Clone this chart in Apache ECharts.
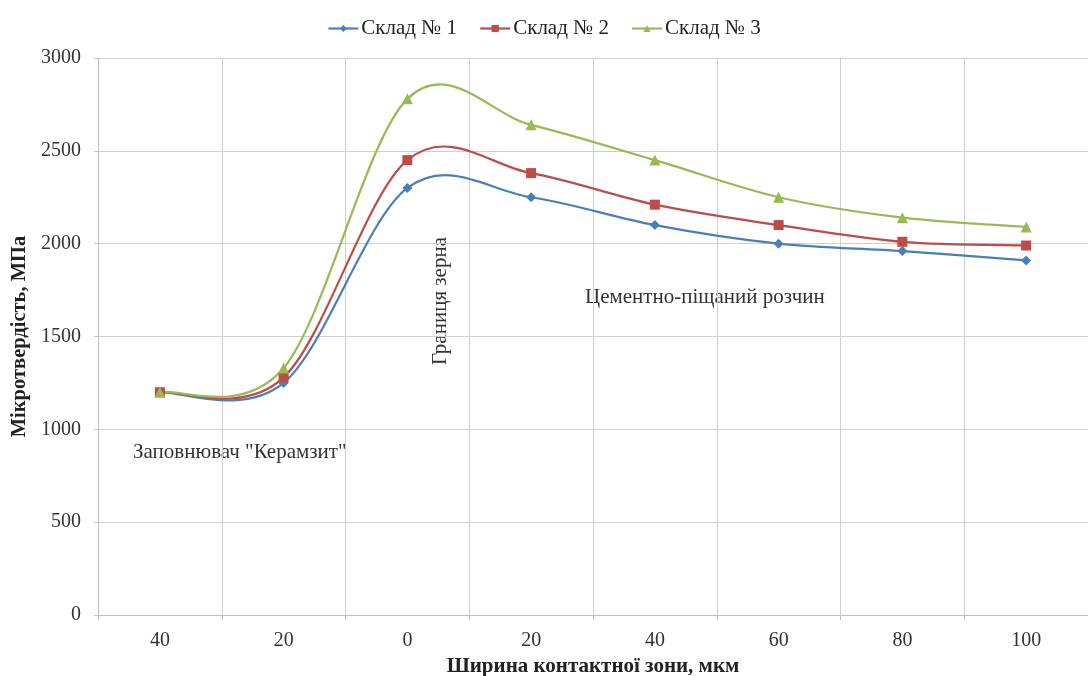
<!DOCTYPE html>
<html>
<head>
<meta charset="utf-8">
<script src="https://cdn.jsdelivr.net/npm/echarts@6/dist/echarts.min.js"></script>
<style>
html,body{margin:0;padding:0;background:#fff;overflow:hidden;}
#chart{width:1088px;height:676px;}
</style>
</head>
<body>
<div id="chart"></div>
<script>
const categories = ['40', '20', '0', '20', '40', '60', '80', '100'];
const seriesNames = ['Склад № 1', 'Склад № 2', 'Склад № 3'];
const sklad1 = [1200, 1250, 2300, 2250, 2100, 2000, 1960, 1910];
const sklad2 = [1200, 1280, 2450, 2380, 2210, 2100, 2010, 1990];
const sklad3 = [1200, 1330, 2780, 2640, 2450, 2250, 2140, 2090];
const yTicks = [0, 500, 1000, 1500, 2000, 2500, 3000];

const colors = ['#4A7EBB', '#BE4B48', '#98B954'];
const symbols = ['diamond', 'rect', 'triangle'];
const symbolSizes = [10, 10, 11];
const FONT = '"Liberation Serif", "DejaVu Serif", serif';

const allData = [sklad1, sklad2, sklad3];

function makeCurve(vals, color, name) {
  return {
    type: 'custom',
    name: name,
    silent: true,
    z: 2,
    data: vals.map((v, i) => [i, v]),
    renderItem: function (params, api) {
      const i = params.dataIndex;
      const n = vals.length;
      if (i >= n - 1) return null;
      const P = k => api.coord([k, vals[Math.max(0, Math.min(n - 1, k))]]);
      const p0 = i === 0 ? P(i) : P(i - 1);
      const p1 = P(i);
      const p2 = P(i + 1);
      const p3 = i + 2 >= n ? P(i + 1) : P(i + 2);
      const t = 1 / 6;
      return {
        type: 'bezierCurve',
        shape: {
          x1: p1[0], y1: p1[1],
          x2: p2[0], y2: p2[1],
          cpx1: p1[0] + (p2[0] - p0[0]) * t,
          cpy1: p1[1] + (p2[1] - p0[1]) * t,
          cpx2: p2[0] - (p3[0] - p1[0]) * t,
          cpy2: p2[1] - (p3[1] - p1[1]) * t
        },
        style: { stroke: color, lineWidth: 2.2, fill: 'none' }
      };
    }
  };
}

const lineSeries = allData.map((vals, s) => ({
  type: 'line',
  name: seriesNames[s],
  data: vals,
  z: 5,
  symbol: symbols[s],
  symbolSize: symbolSizes[s],
  showSymbol: true,
  lineStyle: { width: 0, opacity: 0, color: colors[s] },
  itemStyle: { color: colors[s] },
  silent: true
}));
const curveSeries = allData.map((vals, s) => makeCurve(vals, colors[s], seriesNames[s]));

const chart = echarts.init(document.getElementById('chart'), null, { renderer: 'canvas' });
chart.setOption({
  animation: false,
  backgroundColor: '#fff',
  color: colors,
  textStyle: { fontFamily: FONT },
  legend: {
    data: seriesNames,
    top: 13,
    left: 'center',
    itemWidth: 30,
    itemHeight: 9,
    itemGap: 22,
    lineStyle: { width: 2.2, opacity: 1 },
    textStyle: { fontFamily: FONT, fontSize: 21, color: '#222', padding: [0, 0, 0, -2] }
  },
  grid: { left: 98, right: 0, top: 58, bottom: 61, containLabel: false, outerBoundsMode: 'none' },
  xAxis: {
    type: 'category',
    data: categories,
    boundaryGap: true,
    name: 'Ширина контактної зони, мкм',
    nameLocation: 'middle',
    nameGap: 36,
    nameTextStyle: { fontFamily: FONT, fontSize: 21, fontWeight: 'bold', color: '#222' },
    axisLine: { lineStyle: { color: '#BFBFBF', width: 1 } },
    axisTick: { show: true, length: 5, lineStyle: { color: '#BFBFBF' } },
    axisLabel: { fontFamily: FONT, fontSize: 20, color: '#333', margin: 16 },
    splitLine: { show: true, lineStyle: { color: '#CFCFCF', width: 1 } }
  },
  yAxis: {
    type: 'value',
    min: yTicks[0],
    max: yTicks[yTicks.length - 1],
    interval: 500,
    name: 'Мікротвердість, МПа',
    nameLocation: 'middle',
    nameGap: 59,
    nameTextStyle: { fontFamily: FONT, fontSize: 20.5, fontWeight: 'bold', color: '#222' },
    axisLine: { show: true, lineStyle: { color: '#BFBFBF', width: 1 } },
    axisTick: { show: true, length: 4, lineStyle: { color: '#BFBFBF' } },
    axisLabel: { fontFamily: FONT, fontSize: 20, color: '#333', margin: 17, formatter: v => String(v) },
    splitLine: { show: true, lineStyle: { color: '#CFCFCF', width: 1 } }
  },
  series: lineSeries.concat(curveSeries),
  graphic: [
    {
      type: 'text', x: 133, y: 452,
      style: { text: 'Заповнювач "Керамзит"', font: '21px ' + FONT, fill: '#333', verticalAlign: 'middle' }
    },
    {
      type: 'text', x: 585, y: 297,
      style: { text: 'Цементно-піщаний розчин', font: '21px ' + FONT, fill: '#333', verticalAlign: 'middle' }
    },
    {
      type: 'text', x: 440, y: 301, rotation: Math.PI / 2,
      style: { text: 'Границя зерна', font: '21px ' + FONT, fill: '#333', align: 'center', verticalAlign: 'middle' }
    }
  ]
});
</script>
</body>
</html>
